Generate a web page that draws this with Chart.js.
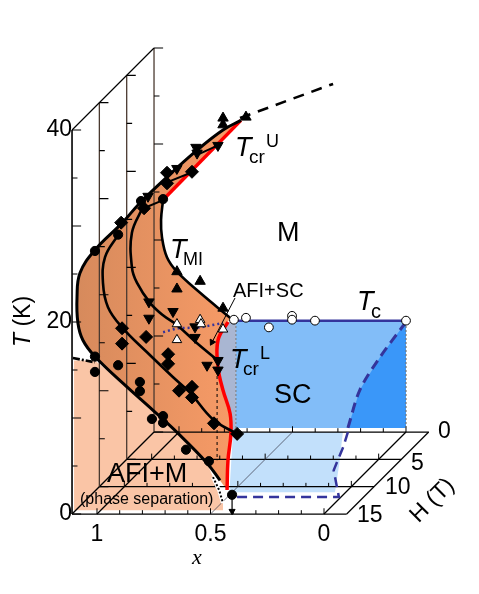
<!DOCTYPE html>
<html>
<head>
<meta charset="utf-8">
<style>
  body { margin: 0; background: #fff; }
  canvas { display: block; }
</style>
<script src="https://cdn.jsdelivr.net/npm/chart.js@4"></script>
</head>
<body>
<canvas id="myChart" width="479" height="594"></canvas>
<script>
// T_MI curves, one for each field plane
var curve15X = [0.366, 0.445, 0.559, 0.692, 0.811, 0.890, 1.009, 1.075, 1.088, 1.084, 1.062, 1.009, 0.885, 0.753, 0.643, 0.515, 0.458]
var curve15T = [41.0, 40.0, 37.9, 35.1, 32.4, 30.3, 27.5, 25.1, 22.6, 19.9, 18.1, 16.4, 13.6, 10.8, 8.4, 5.3, 3.5]
var curve10X = [1.028, 1.085, 1.094, 1.072, 1.010, 0.900, 0.785, 0.711, 0.609, 0.503]
var curve10T = [26.2, 23.9, 21.2, 18.7, 16.6, 14.0, 11.4, 9.8, 7.0, 5.5]
var curve5X = [1.038, 1.087, 1.087, 1.065, 1.007, 0.950, 0.889, 0.800, 0.708]
var curve5T = [26.3, 23.6, 20.0, 18.4, 16.3, 15.0, 14.0, 12.1, 10.3]
var curve0X = [1.07, 1.079, 1.075, 1.053, 1.009, 0.907, 0.775]
var curve0T = [24.2, 22.1, 20.3, 18.2, 16.7, 14.5, 11.9]

// measured points
var circleX = [1.009, 0.907, 0.806, 0.709, 1.009, 1.009, 0.907, 0.811, 0.811, 0.758, 0.709, 0.709, 0.608, 0.507, 0.405]
var circleT = [27.4, 29.1, 32.6, 32.8, 16.4, 14.8, 15.5, 13.75, 12.8, 9.9, 10.2, 9.5, 6.7, 5.5, 2.0]
var diamondX = [1.014, 0.913, 0.812, 0.812, 0.702, 1.01, 1.01, 0.904, 0.807, 0.807, 0.759, 0.702, 0.702, 0.605, 0.503]
var diamondT = [27.5, 29.0, 32.7, 31.6, 32.8, 16.5, 14.9, 15.6, 13.8, 12.8, 10.0, 10.4, 9.3, 6.6, 5.5]
var downX = [1.016, 0.889, 0.805, 0.800, 0.708, 1.012, 1.012, 0.906, 0.809, 0.809, 0.756, 0.708, 0.708]
var downT = [27.4, 30.3, 32.5, 31.9, 32.7, 16.4, 14.7, 15.4, 13.8, 12.7, 9.8, 10.3, 9.3]
var upX = [1.009, 1.009, 0.907, 0.806, 0.806, 0.806, 0.705]
var upT = [16.7, 14.9, 15.7, 12.9, 32.7, 32.0, 32.8]
var openTriX = [1.009, 1.009, 0.907, 0.903, 0.806]
var openTriT = [11.25, 9.6, 11.7, 11.25, 10.7]
var tcX = [0.758, 0.705, 0.604, 0.502, 0.502, 0.401, 0]
var tcT = [11.7, 11.9, 10.9, 12.1, 11.7, 11.6, 11.6]

// crossover lines
var redUpperX = [1.07, 0.366]
var redUpperH = [0, 15]
var redUpperT = [24.2, 41]
var redLowerX = [0.423, 0.467, 0.467, 0.445, 0.414, 0.410, 0.423, 0.427]
var redLowerT = [20.0, 18.1, 15.3, 12.9, 10.5, 8.4, 5.6, 2.5]
var dashTopX = [0.370, -0.04]
var dashTopT = [41.25, 44.8]
var connectX = [0.789, 0.709, NaN, 0.687, 0.581, NaN, 0.559, 0.467]
var connectT = [31.9, 32.7, NaN, 34.6, 35.6, NaN, 37.4, 38.4]
var dotTcX = [1.07, 1.009, 0.907, 0.806]
var dotTcT = [10.4, 10.8, 10.9, 11.35]

// superconducting boundary
var hcWallX = [0, 0.1145, 0.203, 0.256]
var hcWallT = [11.46, 7.8, 4.4, 0.42]
var hcFloorX = [0.256, 0.211, 0.15, 0.009, 0.476]
var hcFloorH = [0, 2.7, 7, 11.9, 11.9]
var floorBlueX = [0.762, 0.278, 0.15, 0.048, 0.513]
var floorBlueH = [0, 0, 6, 11, 11]
var scWallX = [0.749, 0, 0, 0.749]
var scWallT = [11.46, 11.46, 0.42, 0.42]

// phase separated region
var salmonX = [1.101, 1.101, 0.445, 0.445, 0.489, 0.515, 0.643, 0.753, 0.885, 1.009]
var salmonT = [16.0, 0.4, 0.4, 1.15, 3.85, 5.3, 8.4, 10.8, 13.6, 16.0]
var dotEdgeX = [0.489, 0.462, 0.445]
var dotEdgeT = [3.85, 2.5, 1.15]
var dashDotX = [1.106, 1.009]
var dashDotT = [16.25, 15.8]

// axes
var xTickLabels = [1, 0.5, 0]
var tTickLabels = [0, 20, 40]
var hPlanes = [0, 5, 10, 15]
var xEdges = [1.11, -0.10]
var xMarks = [1.0, 0.9, 0.8, 0.7, 0.6, 0.5, 0.4, 0.3, 0.2, 0.1, 0]
var tMarks = [0, 5, 10, 15, 20, 25, 30, 35, 40]

// oblique projection: one tesla moves a point along the floor diagonal
var shiftX = 0.02408
var shiftT = 0.5694

function proj(xs, ts, hs) {
    return xs.map(function (v, i) {
        var h = Array.isArray(hs) ? hs[i] : hs
        var t = Array.isArray(ts) ? ts[i] : ts
        return { x: v - (15 - h) * shiftX, y: t + (15 - h) * shiftT }
    })
}

var datasets = []

function add(data, opts) {
    var d = Object.assign({
        data: data,
        showLine: true,
        pointRadius: 0,
        borderColor: "#000",
        borderWidth: 1,
        tension: 0,
        order: 1000 - datasets.length
    }, opts)
    datasets.push(d)
}

function marks(data, style, radius, rotation, fill) {
    add(data, {
        showLine: false,
        pointStyle: style,
        pointRadius: radius,
        pointRotation: rotation,
        pointBackgroundColor: fill,
        pointBorderColor: "#000",
        pointBorderWidth: 1
    })
}

function polygon(data, color) {
    add(data, { fill: "shape", backgroundColor: color, borderWidth: 0, borderColor: "transparent" })
}

// filled areas
polygon(proj(salmonX, salmonT, 15), "#fac5a6")
polygon(proj(scWallX, scWallT, 0), "#82bdf8")
polygon(proj(hcWallX.concat([0]), hcWallT.concat([0.42]), 0), "#3a97f9")
polygon(proj(redLowerX.slice(0, 6).concat([0.388, 0.388]), redLowerT.slice(0, 6).concat([8.96, 20]), 15), "#a9b6d2")
polygon(proj(floorBlueX, 0, floorBlueH), "#c2e0fb")

var orangeX = proj(curve15X, curve15T, 15)
    .concat(proj(redLowerX.slice().reverse(), redLowerT.slice().reverse(), 15))
    .concat(proj(curve0X.slice().reverse(), curve0T.slice().reverse(), 0))
polygon(orangeX, function (ctx) {
    var s = ctx.chart.scales.x
    var a = s.getPixelForValue(1.09)
    var b = s.getPixelForValue(0.42)
    if (!isFinite(a) || !isFinite(b)) {
        return "#e8925f"
    }
    var g = ctx.chart.ctx.createLinearGradient(a, 0, b, 0)
    g.addColorStop(0, "#d68a5c")
    g.addColorStop(1, "#f69a66")
    return g
})

// floor grid and back walls
var floorTicks = []
hPlanes.forEach(function (h) {
    add(proj(xEdges, [0, 0], h), { borderWidth: 1.3 })
    xMarks.forEach(function (v) {
        var len = (v === 0.5 || v === 0 || v === 1) ? 0.6 : 0.4
        floorTicks = floorTicks.concat(proj([v, v, NaN], [0, len, NaN], h))
    })
})
add(floorTicks, { borderWidth: 1 })
xEdges.concat([1, 0]).forEach(function (v) {
    add(proj([v, v], [0, 0], [0, 15]), { borderWidth: 1.3 })
})
add(proj([0.5, 0.5], [0, 0], [0, 15]), { borderWidth: 0.7, borderColor: "#334" })

var wallTicks = []
hPlanes.forEach(function (h) {
    add(proj([xEdges[0], xEdges[0]], [0, 40], h), {
        borderWidth: h === 15 ? 1.6 : 1.3,
        borderColor: h === 15 ? "#000" : "#4a3a30"
    })
    tMarks.forEach(function (t) {
        var len = t % 10 === 0 ? 0.04 : 0.024
        wallTicks = wallTicks.concat(proj([xEdges[0], xEdges[0] - len, NaN], [t, t, NaN], h))
    })
})
add(wallTicks, { borderWidth: 1.1 })
add(proj([xEdges[0], xEdges[0]], [40, 40], [15, 0]), { borderWidth: 1.1 })

// thin guide lines
add(proj([0.388, 0.388], [20, 8.96], 15), { borderColor: "#777", borderDash: [2, 2] })
add(proj([0, 0], [11.46, 0.42], 0), { borderColor: "#777", borderDash: [2, 2], borderWidth: 1.2 })
add(proj([0.471, 0.471], [15, 5.6], 15), { borderDash: [3, 3] })

// superconducting lines
add(proj([0.775, 0], [11.6, 11.6], 0), { borderColor: "#34349c", borderWidth: 2.5 })
add(proj(hcWallX, hcWallT, 0), { borderColor: "#34349c", borderWidth: 3, borderDash: [10, 6], tension: 0.3 })
add(proj(hcFloorX, 0, hcFloorH), { borderColor: "#34349c", borderWidth: 2.5, borderDash: [10, 6] })
add(proj(dotTcX, dotTcT, 0), { borderColor: "#34349c", borderWidth: 2.5, borderDash: [2, 3] })

// crossover lines in red
add(proj(redUpperX, redUpperT, redUpperH), { borderColor: "#f00", borderWidth: 3.5 })
add(proj(redLowerX, redLowerT, 15), { borderColor: "#f00", borderWidth: 3.5, tension: 0.4 })

// T_MI curves
add(proj(curve10X, curve10T, 10), { borderWidth: 2.6, tension: 0.4 })
add(proj(curve5X, curve5T, 5), { borderWidth: 2.6, tension: 0.4 })
add(proj(curve0X, curve0T, 0), { borderWidth: 2.6, tension: 0.4 })
add(proj(curve15X, curve15T, 15), { borderWidth: 3, tension: 0.4 })
add(proj(connectX, connectT, 15), { borderWidth: 2 })
add(proj(dashTopX, dashTopT, 15), { borderWidth: 2.6, borderDash: [11, 8] })
add(proj(dashDotX, dashDotT, 15), { borderWidth: 2.6, borderDash: [7, 2, 2, 2] })
add(proj(dotEdgeX, dotEdgeT, 15), { borderColor: "#fff", borderWidth: 4 })
add(proj(dotEdgeX, dotEdgeT, 15), { borderWidth: 2, borderDash: [2, 2] })

// arrows
add(proj([0.392, 0.493], [22.5, 17.9], 15), { borderWidth: 1 })
marks(proj([0.493], [17.9], 15), "triangle", 3.5, 208, "#000")
add(proj([0.405, 0.405], [2.0, 0.2], 15), { borderWidth: 1.2 })
marks(proj([0.405], [0.3], 15), "triangle", 3.5, 180, "#000")

// data points
marks(proj(circleX, circleT, 15), "circle", 4.6, 0, "#000")
marks(proj(diamondX, diamondT, 10), "rectRot", 6.5, 0, "#000")
marks(proj(downX, downT, 5), "triangle", 6, 180, "#000")
marks(proj(upX, upT, 0), "triangle", 6, 0, "#000")
marks(proj(openTriX, openTriT, 0), "triangle", 5.5, 0, "#fff")
marks(proj(tcX, tcT, 0), "circle", 4.4, 0, "#fff")

var SANS = "'Liberation Sans'"

function put(c, text, x, y, size, style) {
    c.font = (style || "") + " " + size + "px " + SANS
    c.fillText(text, x, y)
}

var labelPlugin = {
    id: "labels",
    afterDatasetsDraw: function (chart) {
        var c = chart.ctx
        c.save()
        c.fillStyle = "#000"
        c.textAlign = "left"
        c.textBaseline = "alphabetic"

        put(c, "T", 235, 156, 27, "italic")
        put(c, "cr", 249, 163, 19)
        put(c, "U", 266, 147, 18)
        put(c, "T", 170, 258, 27, "italic")
        put(c, "MI", 183, 265, 18)
        put(c, "T", 230, 368, 27, "italic")
        put(c, "cr", 243, 375, 19)
        put(c, "L", 260, 359, 18)
        put(c, "T", 357, 310, 27, "italic")
        put(c, "c", 371, 318, 20)
        put(c, "M", 277, 241, 27)
        put(c, "SC", 274, 403, 27)
        put(c, "AFI+SC", 233, 297, 20)
        put(c, "AFI+M", 107, 482, 27)
        put(c, "(phase separation)", 80, 504, 16)

        c.font = "italic 22px 'Liberation Serif'"
        c.fillText("x", 192, 564)

        c.font = "23px " + SANS
        var hLabelX = [438, 411, 385, 357]
        var hLabelY = [438, 470, 494, 522]
        hPlanes.forEach(function (h, i) {
            c.fillText(String(h), hLabelX[i], hLabelY[i])
        })

        c.save()
        c.translate(437, 505)
        c.rotate(-Math.PI / 4)
        c.textAlign = "center"
        c.font = "23px " + SANS
        c.fillText("H (T)", 0, 0)
        c.restore()

        c.save()
        c.translate(30, 347)
        c.rotate(-Math.PI / 2)
        put(c, "T", 0, 0, 23, "italic")
        put(c, " (K)", 14, 0, 23)
        c.restore()

        c.restore()
    }
}

Chart.defaults.font.family = SANS

var chart = new Chart("myChart", {
    type: "scatter",
    data: { datasets: datasets },
    plugins: [labelPlugin],
    options: {
        responsive: false,
        animation: false,
        events: [],
        layout: { padding: 0, autoPadding: false },
        plugins: {
            legend: { display: false },
            tooltip: { enabled: false }
        },
        scales: {
            x: {
                type: "linear",
                reverse: true,
                min: -0.6828,
                max: 1.4273,
                position: { y: 0 },
                grid: { display: false },
                border: { display: false },
                afterBuildTicks: function (s) {
                    s.ticks = xTickLabels.map(function (v) { return { value: v } })
                },
                ticks: {
                    color: "#000",
                    font: { size: 23 },
                    padding: -1,
                    maxRotation: 0,
                    autoSkip: false,
                    callback: function (v) { return String(v) }
                }
            },
            y: {
                type: "linear",
                min: -8.33,
                max: 53.54,
                position: { x: 1.11 },
                grid: { display: false },
                border: { display: false },
                afterBuildTicks: function (s) {
                    s.ticks = tTickLabels.map(function (v) { return { value: v } })
                },
                ticks: {
                    color: "#000",
                    font: { size: 23 },
                    // also cancels the space the axis would keep above and below the plot
                    padding: -14,
                    autoSkip: false,
                    callback: function (v) { return String(v) }
                }
            }
        }
    }
});
</script>
</body>
</html>
